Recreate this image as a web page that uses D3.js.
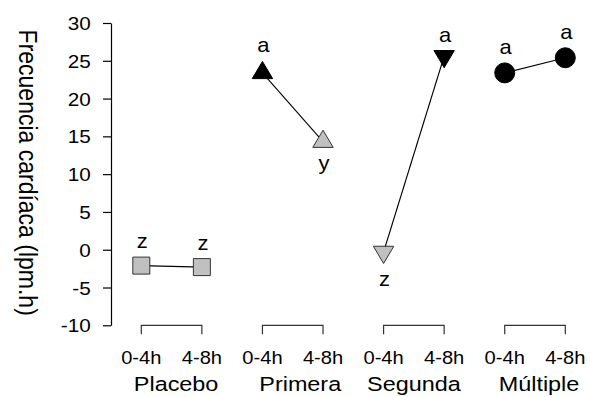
<!DOCTYPE html>
<html>
<head>
<meta charset="utf-8">
<script src="https://cdn.jsdelivr.net/npm/d3@7"></script>
<style>
  body { margin: 0; background: #fff; }
  svg { display: block; }
  text { font-family: "Liberation Sans", Arial, Helvetica, sans-serif; fill: #000; }
</style>
</head>
<body>
<svg id="chart" width="599" height="397"></svg>
<script>
// ---- data ----
const groups = ["Placebo", "Primera", "Segunda", "Múltiple"];
const periods = ["0-4h", "4-8h"];
const placebo = [-2.1, -2.3];
const primera = [23.4, 14.3];
const segunda = [-0.3, 25.6];
const multiple = [23.4, 25.4];
const letters = [["z", "z"], ["a", "y"], ["z", "a"], ["a", "a"]];
const letterSide = [["above", "above"], ["above", "below"], ["below", "above"], ["above", "above"]];
const yTicks = [-10, -5, 0, 5, 10, 15, 20, 25, 30];
const yTitle = "Frecuencia cardíaca (lpm.h)";

// ---- marker styles per group ----
const GRAY = "#c0c0c0";
const shapes = [["square", "square"], ["triUp", "triUp"], ["triDown", "triDown"], ["circle", "circle"]];
const fills = [[GRAY, GRAY], ["#000", GRAY], [GRAY, "#000"], ["#000", "#000"]];
const groupNudge = [4.5, 7.5, 0, 4];

const series = [placebo, primera, segunda, multiple];

const svg = d3.select("#chart");

const keys = [];
groups.forEach(g => periods.forEach(p => keys.push(g + "|" + p)));

const x = d3.scalePoint().domain(keys).range([141.3, 565.3]).padding(0);
const y = d3.scaleLinear().domain([-10, 30]).range([325.3, 23]);

// ---- y axis (plain hyphen for negatives) ----
const yAxis = d3.axisLeft(y).tickValues(yTicks).tickFormat(d => String(d)).tickSize(8).tickSizeOuter(0);
const yg = svg.append("g").attr("transform", "translate(111,0)").call(yAxis);
yg.select(".domain").attr("stroke", "#000").attr("stroke-width", 1.2);
yg.selectAll(".tick line").attr("stroke", "#000").attr("stroke-width", 1.2);
yg.selectAll(".tick text")
  .attr("x", null).attr("dy", null)
  .attr("text-anchor", "end")
  .style("font-size", "18px")
  .attr("transform", "translate(-20.3,6.6) scale(1.15,1)");

// y title, rotated to read top-to-bottom
svg.append("text")
  .attr("transform", "translate(18.5,172.7) scale(1.09,1) rotate(90)")
  .attr("text-anchor", "middle")
  .style("font-size", "23px")
  .text(yTitle);

// ---- category brackets and labels ----
const bracketY = y(-10);
groups.forEach((g, gi) => {
  const x0 = x(g + "|" + periods[0]);
  const x1 = x(g + "|" + periods[1]);
  svg.append("path")
    .attr("d", `M${x0},${bracketY + 9}V${bracketY}H${x1}V${bracketY + 9}`)
    .attr("fill", "none").attr("stroke", "#333").attr("stroke-width", 1.2);
  periods.forEach(p => {
    svg.append("text")
      .attr("transform", `translate(${x(g + "|" + p)},364) scale(1.15,1)`)
      .attr("text-anchor", "middle")
      .style("font-size", "17.5px")
      .text(p);
  });
  svg.append("text")
    .attr("transform", `translate(${(x0 + x1) / 2 + groupNudge[gi]},390.5) scale(1.2,1)`)
    .attr("text-anchor", "middle")
    .style("font-size", "19.5px")
    .text(g);
});

// ---- marker geometry ----
const TW = 20.4, TH = 17.2;
const geom = {
  square: { d: "M-8.5,-8.5H8.5V8.5H-8.5Z", top: -8.5, bottom: 8.5 },
  triUp: { d: `M0,${-2 * TH / 3}L${TW / 2},${TH / 3}L${-TW / 2},${TH / 3}Z`, top: -2 * TH / 3, bottom: TH / 3 },
  triDown: { d: `M0,${2 * TH / 3}L${TW / 2},${-TH / 3}L${-TW / 2},${-TH / 3}Z`, top: -TH / 3, bottom: 2 * TH / 3 },
  circle: { d: d3.symbol(d3.symbolCircle, Math.PI * 100)(), top: -10, bottom: 10 }
};

// connecting lines drawn under the markers
const line = d3.line().x(d => x(d.key)).y(d => y(d.v));
series.forEach((vals, gi) => {
  const pts = vals.map((v, pi) => ({ key: groups[gi] + "|" + periods[pi], v }));
  svg.append("path").attr("d", line(pts))
    .attr("fill", "none").attr("stroke", "#000").attr("stroke-width", 1.1);
});

// markers and significance letters
series.forEach((vals, gi) => {
  vals.forEach((v, pi) => {
    const cx = x(groups[gi] + "|" + periods[pi]);
    const cy = y(v);
    const gm = geom[shapes[gi][pi]];
    const isGray = fills[gi][pi] === GRAY;
    svg.append("path")
      .attr("transform", `translate(${cx},${cy})`)
      .attr("d", gm.d)
      .attr("fill", fills[gi][pi])
      .attr("stroke", isGray ? "#333" : "#000")
      .attr("stroke-width", 1);
    const ly = letterSide[gi][pi] === "above" ? cy + gm.top - 9 : cy + gm.bottom + 22.5;
    svg.append("text")
      .attr("transform", `translate(${cx + 1},${ly}) scale(1.1,1)`)
      .attr("text-anchor", "middle")
      .style("font-size", "20px")
      .text(letters[gi][pi]);
  });
});
</script>
</body>
</html>
